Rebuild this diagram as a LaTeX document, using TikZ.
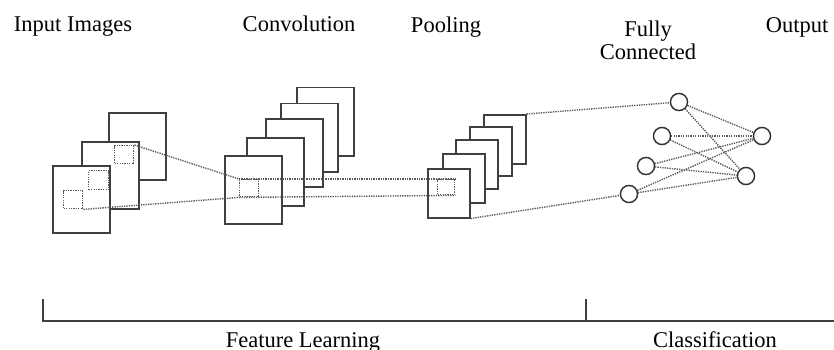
\documentclass[tikz,border=0pt]{standalone}
\usepackage{fontspec}
\setmainfont{Liberation Serif}
\begin{document}
\begin{tikzpicture}[x=1pt,y=-1pt,
  lbl/.style={anchor=base,inner sep=0pt,font=\fontsize{22.5}{25}\selectfont},
  sheet/.style={draw=black!75,line width=1.5pt,fill=white,anchor=north west,inner sep=0pt,minimum width=#1},
  insq/.style={sheet=57pt,minimum height=67pt},
  cvsq/.style={sheet=57pt,minimum height=68pt},
  plsq/.style={sheet=42pt,minimum height=49pt},
  dotbox/.style={draw=black!65,line width=1.4pt,dash pattern=on 1.3pt off 1.1pt,anchor=north west,inner sep=0pt},
  dotline/.style={draw=black!65,line width=1.4pt,dash pattern=on 1.3pt off 1.1pt},
  neuron/.style={circle,draw=black!80,line width=1.3pt,fill=white,inner sep=0pt,minimum size=17pt},
  brace/.style={draw=black!75,line width=1.3pt}]
\useasboundingbox (0,0) rectangle (834,350);

% titles
\node[lbl] (tin) at (73,32) {Input Images};
\node[lbl] (tcv) at (299,32) {Convolution};
\node[lbl] (tpl) at (446,33) {Pooling};
\node[lbl] (tfc1) at (648,37) {Fully};
\node[lbl] (tfc2) at (648,60) {Connected};
\node[lbl] (tout) at (797,33) {Output};

% input images
\node[insq] (in3) at (108,112) {};
\node[insq] (in2) at (81,141) {};
\node[insq] (in1) at (52,165) {};
\node[dotbox,minimum width=19pt,minimum height=18pt] (d3) at (114,145) {};
\node[dotbox,minimum width=20pt,minimum height=19pt] (d2) at (88,170) {};
\node[dotbox,minimum width=19pt,minimum height=18pt] (d1) at (63,190) {};

% convolution
\node[cvsq] (cv5) at (296,87) {};
\node[cvsq] (cv4) at (280,103) {};
\node[cvsq] (cv3) at (265,118) {};
\node[cvsq] (cv2) at (246,137) {};
\node[cvsq] (cv1) at (224,155) {};
\node[dotbox,minimum width=19pt,minimum height=17pt] (dc) at (239,179) {};

% pooling
\node[plsq] (pl5) at (483,114) {};
\node[plsq] (pl4) at (469,126) {};
\node[plsq] (pl3) at (455,139) {};
\node[plsq] (pl2) at (442,153) {};
\node[plsq] (pl1) at (427,168) {};
\node[dotbox,minimum width=17pt,minimum height=15pt] (dp) at (437,179) {};

% fully connected and output
\node[neuron] (h1) at (679,102) {};
\node[neuron] (h2) at (662,136) {};
\node[neuron] (h3) at (646,166) {};
\node[neuron] (h4) at (629,194) {};
\node[neuron] (o1) at (762,136) {};
\node[neuron] (o2) at (746,176) {};

% connectors
\draw[dotline] (d3.north east) -- (dc.north west);
\draw[dotline] (d1.south east) -- (dc.south west);
\draw[dotline] (dc.north west) -- (dp.north east);
\draw[dotline] (dc.south west) -- (dp.south east);
\draw[dotline] (pl5.north east) -- (h1);
\draw[dotline] (pl1.south east) -- (h4);
\foreach \h in {h1,h2,h3,h4}{
  \draw[dotline] (\h) -- (o1);
  \draw[dotline] (\h) -- (o2);
}
% redraw neurons on top
\foreach \n/\p in {h1/{679,102},h2/{662,136},h3/{646,166},h4/{629,194},o1/{762,136},o2/{746,176}}{
  \node[neuron] at (\p) {};
}

% bottom bracket
\coordinate (bl) at (43,299);
\coordinate (blb) at (43,321);
\coordinate (bm) at (586,299);
\coordinate (bmb) at (586,321);
\coordinate (br) at (834,321);
\draw[brace] (bl) -- (blb) -- (br);
\draw[brace] (bm) -- (bmb);

\node[lbl] (tfl) at (303,347) {Feature Learning};
\node[lbl] (tcl) at (715,347) {Classification};
\end{tikzpicture}
\end{document}
